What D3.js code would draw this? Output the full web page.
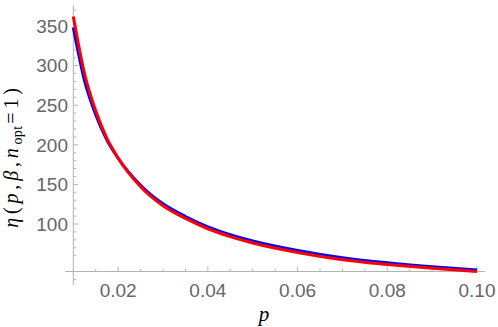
<!DOCTYPE html>
<html>
<head>
<meta charset="utf-8">
<script src="https://cdn.jsdelivr.net/npm/d3@7"></script>
<style>
  body { margin: 0; background: #fff; }
  svg { display: block; }
</style>
</head>
<body>
<div id="chart"></div>
<script>
// values
var pValues   = [0.01, 0.0125, 0.015, 0.0175, 0.02, 0.025, 0.03, 0.035, 0.04, 0.045, 0.05, 0.06, 0.07, 0.08, 0.09, 0.10];
var blueEta   = [348, 281, 238, 206, 183, 149, 125.5, 109.5, 96.5, 86.5, 78.5, 66.5, 57.5, 51, 46, 42];
var redEta    = [362, 290, 243, 208, 183, 147, 123, 107, 94, 84, 76, 64, 55, 49, 44, 40];
var xTickVals = [0.02, 0.04, 0.06, 0.08, 0.10];
var xTickText = ["0.02", "0.04", "0.06", "0.08", "0.10"];
var yTickVals = [100, 150, 200, 250, 300, 350];

var width = 498, height = 327;

var svg = d3.select("#chart").append("svg")
  .attr("width", width)
  .attr("height", height);

var x = d3.scaleLinear().domain([0.01, 0.10]).range([73.3, 477]);
var y = d3.scaleLinear().domain([100, 350]).range([224, 26]);

var axisColor = "#b3b3b3";
var labelColor = "#666666";

// x axis crosses at eta = 40, y axis at p = 0.01
var x0 = x(0.01), y0 = y(40);

svg.append("line")
  .attr("x1", x(0.0082)).attr("x2", x(0.1018))
  .attr("y1", y0).attr("y2", y0)
  .attr("stroke", axisColor).attr("stroke-width", 1);

svg.append("line")
  .attr("x1", x0).attr("x2", x0)
  .attr("y1", y(23)).attr("y2", y(376))
  .attr("stroke", axisColor).attr("stroke-width", 1);

// x ticks (pointing up)
var xMinor = d3.range(0.015, 0.1001, 0.005).filter(d => xTickVals.every(t => Math.abs(t - d) > 1e-6));
svg.selectAll(".xminor").data(xMinor).enter().append("line")
  .attr("x1", d => x(d)).attr("x2", d => x(d))
  .attr("y1", y0).attr("y2", y0 - 2.8)
  .attr("stroke", axisColor);
svg.selectAll(".xmajor").data(xTickVals).enter().append("line")
  .attr("x1", d => x(d)).attr("x2", d => x(d))
  .attr("y1", y0).attr("y2", y0 - 5)
  .attr("stroke", axisColor);
svg.selectAll(".xlab").data(xTickVals).enter().append("text")
  .attr("x", d => x(d)).attr("y", 297)
  .attr("text-anchor", "middle")
  .attr("font-family", "Liberation Sans, Arial, sans-serif")
  .attr("font-size", 19)
  .attr("fill", labelColor)
  .text((d, i) => xTickText[i]);

// y ticks (pointing right)
var yMinor = d3.range(30, 371, 10).filter(d => d % 50 !== 0);
svg.selectAll(".yminor").data(yMinor).enter().append("line")
  .attr("x1", x0).attr("x2", x0 + 2.8)
  .attr("y1", d => y(d)).attr("y2", d => y(d))
  .attr("stroke", axisColor);
svg.selectAll(".ymajor").data(yTickVals).enter().append("line")
  .attr("x1", x0).attr("x2", x0 + 5)
  .attr("y1", d => y(d)).attr("y2", d => y(d))
  .attr("stroke", axisColor);
svg.selectAll(".ylab").data(yTickVals).enter().append("text")
  .attr("x", 68).attr("y", d => y(d))
  .attr("dy", "0.36em")
  .attr("text-anchor", "end")
  .attr("font-family", "Liberation Sans, Arial, sans-serif")
  .attr("font-size", 19)
  .attr("fill", labelColor)
  .text(d => d);

// curves
var line = d3.line()
  .x((d, i) => x(pValues[i]))
  .y(d => y(d))
  .curve(d3.curveMonotoneX);

svg.append("path").datum(blueEta)
  .attr("d", line)
  .attr("fill", "none")
  .attr("stroke", "#0000ff")
  .attr("stroke-width", 3);

svg.append("path").datum(redEta)
  .attr("d", line)
  .attr("fill", "none")
  .attr("stroke", "#ff0000")
  .attr("stroke-width", 3);

// axis labels
svg.append("text")
  .attr("x", 264).attr("y", 321)
  .attr("text-anchor", "middle")
  .attr("font-family", "Liberation Serif, Times New Roman, serif")
  .attr("font-style", "italic")
  .attr("font-size", 21)
  .text("p");

var yl = svg.append("text")
  .attr("transform", "translate(18,156) rotate(-90)")
  .attr("text-anchor", "middle")
  .attr("font-family", "Liberation Serif, Times New Roman, serif")
  .attr("font-size", 20);
var parts = [
  {t: "η", it: true}, {t: "(", it: false}, {t: "p", it: true}, {t: ",", it: false},
  {t: "β", it: true}, {t: ",", it: false}, {t: "n", it: true}
];
parts.forEach(function(d) {
  yl.append("tspan")
    .attr("font-style", d.it ? "italic" : "normal")
    .attr("letter-spacing", 3.8)
    .text(d.t);
});
yl.append("tspan").attr("font-size", 14).attr("letter-spacing", 0.3).attr("dy", 4).text("opt");
yl.append("tspan").attr("dy", -4).attr("dx", 2).attr("letter-spacing", 3.8).text("=1)");
</script>
</body>
</html>
